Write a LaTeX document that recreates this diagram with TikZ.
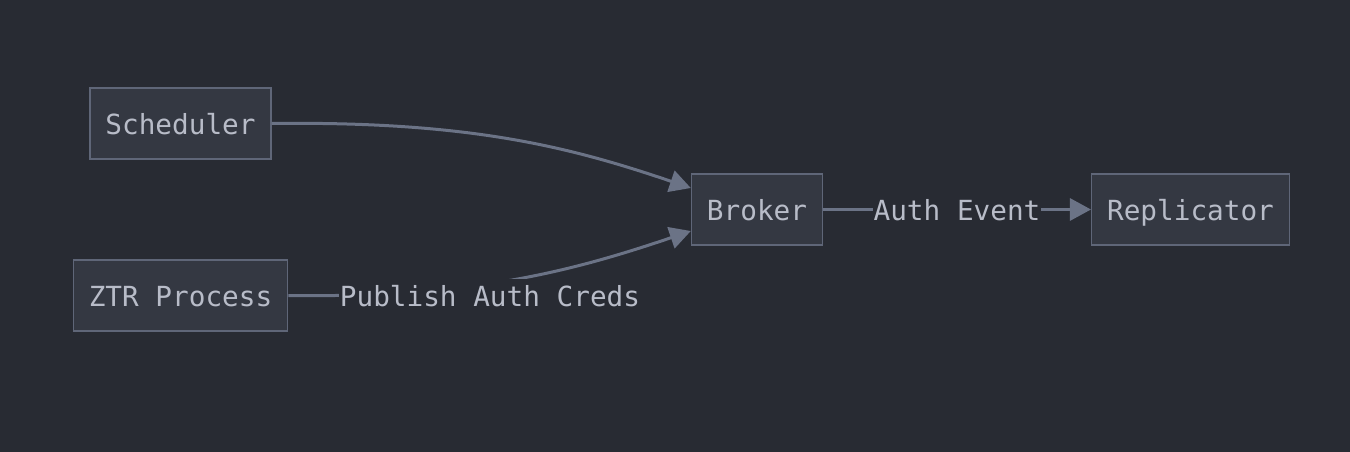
\documentclass[tikz,border=0pt]{standalone}
\usepackage{fontspec}
\setmonofont{DejaVu Sans Mono}
\usetikzlibrary{arrows.meta}
\definecolor{bg}{HTML}{282B33}
\definecolor{nodefill}{HTML}{343842}
\definecolor{nodeline}{HTML}{5F6678}
\definecolor{txt}{HTML}{B8BCC8}
\definecolor{edge}{HTML}{6B7386}
\tikzset{
  box/.style={draw=nodeline, fill=nodefill, line width=1.3pt, minimum height=71pt,
    inner xsep=15.5pt, inner ysep=0pt, text height=25pt, text depth=4pt, text=txt,
    font=\ttfamily\fontsize{27.7}{30}\selectfont},
  lbl/.style={fill=bg, inner xsep=1pt, inner ysep=2pt, text height=25pt, text depth=4pt, text=txt,
    font=\ttfamily\fontsize{27.7}{30}\selectfont},
  conn/.style={draw=edge, line width=3pt, -{Triangle[length=21pt,width=22pt]}},
}
\begin{document}
\begin{tikzpicture}[x=1pt,y=-1pt]
\fill[bg] (0,0) rectangle (1350,452);
\useasboundingbox (0,0) rectangle (1350,452);
\node[box] (sched) at (180.5,123.5) {Scheduler};
\node[box] (ztr) at (180.5,295.5) {ZTR Process};
\node[box] (broker) at (757,209.5) {Broker};
\node[box] (repl) at (1190.5,209.5) {Replicator};
\draw[conn] (sched.east) .. controls (470,121) and (570,147) .. ([yshift=21.5pt]broker.west);
\draw[conn] (ztr.east) .. controls (470,298) and (570,272) .. ([yshift=-21.5pt]broker.west);
\node[lbl] (l1) at (490,295.5) {Publish Auth Creds};
\draw[conn] (broker.east) -- (repl.west);
\node[lbl] (l2) at (957,209.5) {Auth Event};
\end{tikzpicture}
\end{document}
